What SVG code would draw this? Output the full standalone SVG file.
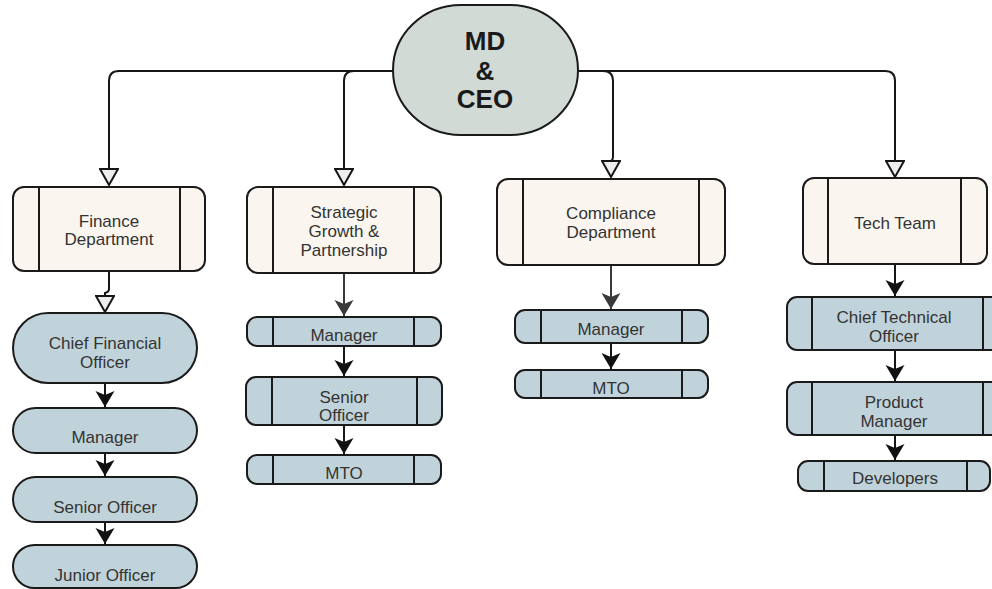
<svg xmlns="http://www.w3.org/2000/svg" width="992" height="589" viewBox="0 0 992 589">
<style>
  .conn { fill: none; stroke: #161616; stroke-width: 2; }
  .grey { stroke: #3a3a3a; }
  .dept { fill: #faf6ef; stroke: #1a1a1a; stroke-width: 2; }
  .role { fill: #c1d3da; stroke: #1a1a1a; stroke-width: 2; }
  .div { stroke: #1a1a1a; stroke-width: 2; }
  .ceo { fill: #d1dad5; stroke: #1a1a1a; stroke-width: 2; }
  text { font-family: "Liberation Sans", Arial, sans-serif; text-anchor: middle; fill: #333333; }
  .dt { font-size: 17px; }
  .rt { font-size: 17px; }
  .mt { font-size: 26px; font-weight: bold; fill: #1a1a1a; }
</style>
<defs>
  <marker id="open" viewBox="0 0 20 20" refX="18" refY="10" markerWidth="20" markerHeight="20" markerUnits="userSpaceOnUse" orient="auto">
    <path d="M2,1 L18,10 L2,19 Z" fill="#eeeeee" stroke="#161616" stroke-width="2" stroke-linejoin="miter"/>
  </marker>
  <marker id="solid" viewBox="0 0 16 20" refX="16" refY="10" markerWidth="16" markerHeight="20" markerUnits="userSpaceOnUse" orient="auto">
    <path d="M0,0.5 L16,10 L0,19.5 L4,10 Z" fill="#111111"/>
  </marker>
  <marker id="solidg" viewBox="0 0 16 20" refX="16" refY="10" markerWidth="16" markerHeight="20" markerUnits="userSpaceOnUse" orient="auto">
    <path d="M0,0.5 L16,10 L0,19.5 L4,10 Z" fill="#3a3a3a"/>
  </marker>
</defs>

<g id="connectors">
  <path class="conn" d="M393,71 H119 Q109,71 109,81 V185" marker-end="url(#open)"/>
  <path class="conn" d="M393,71 H354 Q344,71 344,81 V185" marker-end="url(#open)"/>
  <path class="conn" d="M578,71 H603 Q613,71 613,81 V157 Q613,160 611,161 V177" marker-end="url(#open)"/>
  <path class="conn" d="M578,71 H885 Q895,71 895,81 V177" marker-end="url(#open)"/>

  <path class="conn" d="M109,271 V289 Q109,292 105,293 V312" marker-end="url(#open)"/>
  <path class="conn" d="M105,383 V407" marker-end="url(#solid)"/>
  <path class="conn" d="M105,453 V476" marker-end="url(#solid)"/>
  <path class="conn" d="M105,522 V544" marker-end="url(#solid)"/>

  <path class="conn grey" d="M344,273 V316" marker-end="url(#solidg)"/>
  <path class="conn" d="M344,346 V376" marker-end="url(#solid)"/>
  <path class="conn" d="M344,425 V454" marker-end="url(#solid)"/>

  <path class="conn grey" d="M611,265 V309" marker-end="url(#solidg)"/>
  <path class="conn" d="M611,343 V369" marker-end="url(#solid)"/>

  <path class="conn" d="M895,264 V296" marker-end="url(#solid)"/>
  <path class="conn" d="M895,350 V381" marker-end="url(#solid)"/>
  <path class="conn" d="M895,435 V460" marker-end="url(#solid)"/>
</g>

<g id="ceo">
  <rect class="ceo" x="393" y="5" width="185" height="130" rx="68" ry="65"/>
  <text class="mt" x="485" y="50">MD</text>
  <text class="mt" x="485" y="80">&amp;</text>
  <text class="mt" x="485" y="108">CEO</text>
</g>

<g id="finance">
  <rect class="dept" x="13" y="187" width="192" height="84" rx="11"/>
  <line class="div" x1="39" y1="187" x2="39" y2="271"/>
  <line class="div" x1="180" y1="187" x2="180" y2="271"/>
  <text class="dt" x="109" y="227">Finance</text>
  <text class="dt" x="109" y="245">Department</text>
</g>
<g id="cfo">
  <rect class="role" x="13" y="313" width="184" height="70" rx="35"/>
  <text class="rt" x="105" y="349">Chief Financial</text>
  <text class="rt" x="105" y="368">Officer</text>
</g>
<g id="fin-manager">
  <rect class="role" x="13" y="408" width="184" height="45" rx="22.5"/>
  <text class="rt" x="105" y="443">Manager</text>
</g>
<g id="fin-senior">
  <rect class="role" x="13" y="477" width="184" height="45" rx="22.5"/>
  <text class="rt" x="105" y="513">Senior Officer</text>
</g>
<g id="fin-junior">
  <rect class="role" x="13" y="545" width="184" height="43" rx="21.5"/>
  <text class="rt" x="105" y="581">Junior Officer</text>
</g>

<g id="strategic">
  <rect class="dept" x="247" y="187" width="194" height="86" rx="11"/>
  <line class="div" x1="273" y1="187" x2="273" y2="273"/>
  <line class="div" x1="414" y1="187" x2="414" y2="273"/>
  <text class="dt" x="344" y="218">Strategic</text>
  <text class="dt" x="344" y="237">Growth &amp;</text>
  <text class="dt" x="344" y="256">Partnership</text>
</g>
<g id="str-manager">
  <rect class="role" x="247" y="317" width="194" height="29" rx="10"/>
  <line class="div" x1="273" y1="317" x2="273" y2="346"/>
  <line class="div" x1="414" y1="317" x2="414" y2="346"/>
  <text class="rt" x="344" y="341">Manager</text>
</g>
<g id="str-senior">
  <rect class="role" x="246" y="377" width="196" height="48" rx="10"/>
  <line class="div" x1="272" y1="377" x2="272" y2="425"/>
  <line class="div" x1="417" y1="377" x2="417" y2="425"/>
  <text class="rt" x="344" y="403">Senior</text>
  <text class="rt" x="344" y="421">Officer</text>
</g>
<g id="str-mto">
  <rect class="role" x="247" y="455" width="194" height="29" rx="10"/>
  <line class="div" x1="273" y1="455" x2="273" y2="484"/>
  <line class="div" x1="414" y1="455" x2="414" y2="484"/>
  <text class="rt" x="344" y="479">MTO</text>
</g>

<g id="compliance">
  <rect class="dept" x="497" y="179" width="228" height="86" rx="11"/>
  <line class="div" x1="523" y1="179" x2="523" y2="265"/>
  <line class="div" x1="699" y1="179" x2="699" y2="265"/>
  <text class="dt" x="611" y="219">Compliance</text>
  <text class="dt" x="611" y="238">Department</text>
</g>
<g id="comp-manager">
  <rect class="role" x="515" y="310" width="193" height="33" rx="10"/>
  <line class="div" x1="541" y1="310" x2="541" y2="343"/>
  <line class="div" x1="682" y1="310" x2="682" y2="343"/>
  <text class="rt" x="611" y="335">Manager</text>
</g>
<g id="comp-mto">
  <rect class="role" x="515" y="370" width="193" height="28" rx="10"/>
  <line class="div" x1="541" y1="370" x2="541" y2="398"/>
  <line class="div" x1="682" y1="370" x2="682" y2="398"/>
  <text class="rt" x="611" y="394">MTO</text>
</g>

<g id="tech">
  <rect class="dept" x="803" y="178" width="184" height="86" rx="11"/>
  <line class="div" x1="828" y1="178" x2="828" y2="264"/>
  <line class="div" x1="961" y1="178" x2="961" y2="264"/>
  <text class="dt" x="895" y="229">Tech Team</text>
</g>
<g id="cto">
  <rect class="role" x="787" y="297" width="214" height="53" rx="10"/>
  <line class="div" x1="812" y1="297" x2="812" y2="350"/>
  <line class="div" x1="983" y1="297" x2="983" y2="350"/>
  <text class="rt" x="894" y="323">Chief Technical</text>
  <text class="rt" x="894" y="342">Officer</text>
</g>
<g id="product-manager">
  <rect class="role" x="787" y="382" width="214" height="53" rx="10"/>
  <line class="div" x1="812" y1="382" x2="812" y2="435"/>
  <line class="div" x1="983" y1="382" x2="983" y2="435"/>
  <text class="rt" x="894" y="408">Product</text>
  <text class="rt" x="894" y="427">Manager</text>
</g>
<g id="developers">
  <rect class="role" x="798" y="461" width="192" height="30" rx="10"/>
  <line class="div" x1="824" y1="461" x2="824" y2="491"/>
  <line class="div" x1="967" y1="461" x2="967" y2="491"/>
  <text class="rt" x="895" y="484">Developers</text>
</g>
</svg>
